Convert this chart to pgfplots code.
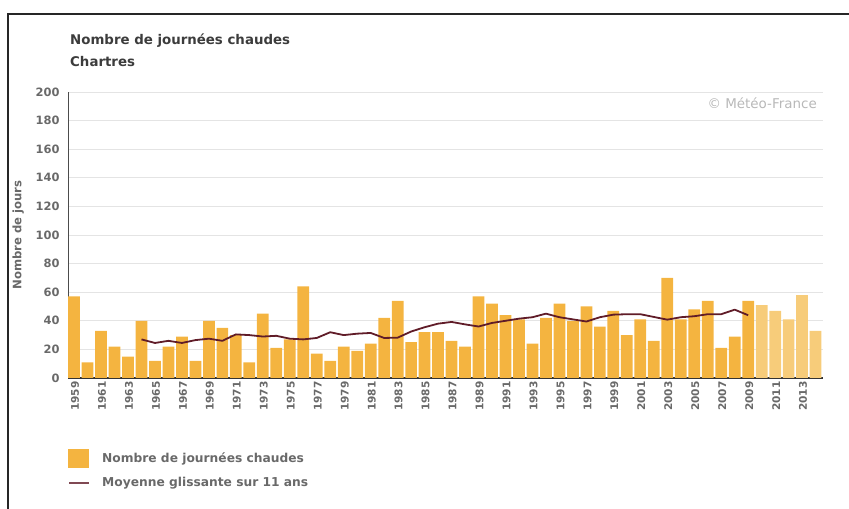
\documentclass[border=0pt]{standalone}
\usepackage{fontspec}
\setmainfont{DejaVu Sans}
\usepackage{pgfplots}
\usepackage{pgfplotstable}
\pgfplotsset{compat=1.18}
\definecolor{barc}{RGB}{244,180,64}
\definecolor{barl}{RGB}{247,204,122}
\definecolor{linec}{RGB}{96,28,40}
\definecolor{tickc}{RGB}{105,105,105}
\definecolor{titlec}{RGB}{60,60,60}
\definecolor{gridc}{RGB}{228,228,228}
\pgfplotstableread{
year val
1959 57
1960 11
1961 33
1962 22
1963 15
1964 40
1965 12
1966 22
1967 29
1968 12
1969 40
1970 35
1971 30
1972 11
1973 45
1974 21
1975 27
1976 64
1977 17
1978 12
1979 22
1980 19
1981 24
1982 42
1983 54
1984 25
1985 32
1986 32
1987 26
1988 22
1989 57
1990 52
1991 44
1992 41
1993 24
1994 42
1995 52
1996 40
1997 50
1998 36
1999 47
2000 30
2001 41
2002 26
2003 70
2004 41
2005 48
2006 54
2007 21
2008 29
2009 54
}\mainbars
\pgfplotstableread{
year val
2010 51
2011 47
2012 41
2013 58
2014 33
}\lightbars
\pgfplotstableread{
year avg
1964 27
1965 24.5
1966 26
1967 24.5
1968 26.5
1969 27.5
1970 26
1971 30.5
1972 30
1973 29
1974 29.5
1975 27.5
1976 27
1977 28
1978 32
1979 30
1980 31
1981 31.5
1982 28
1983 28.2
1984 32.5
1985 35.5
1986 38
1987 39.2
1988 37.5
1989 36
1990 38.5
1991 40
1992 41.5
1993 42.5
1994 45
1995 42.5
1996 41
1997 39.5
1998 42.5
1999 44.3
2000 44.6
2001 44.6
2002 42.7
2003 40.8
2004 42.5
2005 43.2
2006 44.6
2007 44.6
2008 47.8
2009 43.9
}\avgline
\begin{document}
\begin{tikzpicture}
\useasboundingbox (0bp,0bp) rectangle (849bp,509bp);
\draw[line width=1.3bp,black!85] (8bp,0bp) -- (8bp,495bp) -- (849bp,495bp);
\node[anchor=base west,font=\fontsize{13.4}{14}\selectfont\bfseries,text=titlec,inner sep=0] at (70bp,464bp) {Nombre de journées chaudes};
\node[anchor=base west,font=\fontsize{13.4}{14}\selectfont\bfseries,text=titlec,inner sep=0] at (70bp,442bp) {Chartres};
\begin{axis}[
  at={(68bp,131bp)}, anchor=south west,
  scale only axis, width=755bp, height=286bp,
  xmin=1958.55, xmax=2014.55, ymin=0, ymax=200,
  axis x line=bottom, axis y line=left,
  axis line style={-},
  x axis line style={line width=1.2bp, black!80},
  y axis line style={line width=0.8bp, black!70},
  ytick={0,20,...,200},
  xtick={1959,1961,...,2013},
  major tick length=0pt,
  ymajorgrids, grid style={gridc, line width=0.8bp},
  /pgf/number format/assume math mode=true,
  /pgf/number format/1000 sep={},
  yticklabel style={font=\fontsize{11.5}{12}\selectfont\bfseries, text=tickc, xshift=-5bp},
  xticklabel style={font=\fontsize{10.6}{11}\selectfont\bfseries, text=tickc, rotate=90, anchor=east, yshift=-1bp},
  ylabel={Nombre de jours},
  ylabel style={at={(axis description cs:-0.066,0.5)}, anchor=center, rotate=0, font=\fontsize{11.7}{12}\selectfont\bfseries, text=tickc},
  legend style={at={(axis description cs:-0.004,-0.239)}, anchor=north west, draw=none, fill=none,
    font=\fontsize{12.3}{13}\selectfont\bfseries, text=tickc, row sep=8bp,
    /tikz/every odd column/.append style={column sep=10bp}},
  legend cell align=left,
]
\addplot[ybar, bar width=0.87, bar shift=0pt, fill=barc, draw=none,
  legend image code/.code={\fill[barc] (0bp,-9.5bp) rectangle (21bp,9.5bp);}] table[x=year,y=val] {\mainbars};
\addlegendentry{Nombre de journées chaudes}
\addplot[ybar, bar width=0.87, bar shift=0pt, fill=barl, draw=none, forget plot] table[x=year,y=val] {\lightbars};
\addplot[linec, line width=1.8bp, line join=round, mark=none,
  legend image code/.code={\draw[linec!80, line width=2bp] (1bp,0bp) -- (21bp,0bp);}] table[x=year,y=avg] {\avgline};
\addlegendentry{Moyenne glissante sur 11 ans}
\end{axis}
\node[anchor=east,font=\fontsize{13.5}{14}\selectfont,text=black!28,inner sep=0] at (817bp,406bp) {© Météo-France};
\end{tikzpicture}
\end{document}
